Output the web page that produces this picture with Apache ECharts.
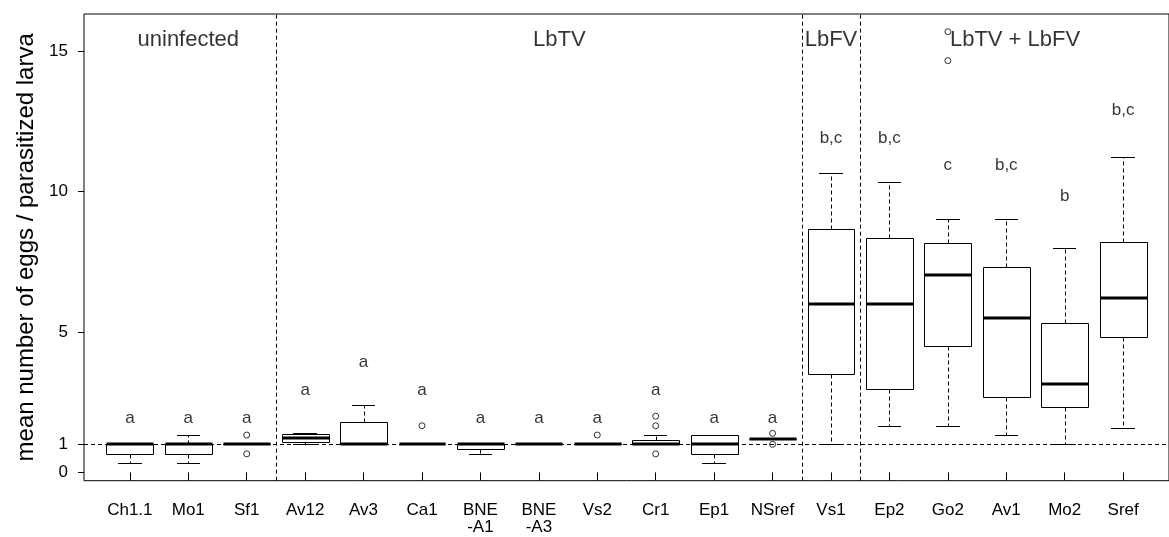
<!DOCTYPE html>
<html>
<head>
<meta charset="utf-8">
<script src="https://cdn.jsdelivr.net/npm/echarts@6/dist/echarts.min.js"></script>
<style>
html,body{margin:0;padding:0;background:#fff;}
#chart{width:1169px;height:537px;}
</style>
</head>
<body>
<div id="chart"></div>
<script>
// ---- data ----
const categories = ['Ch1.1','Mo1','Sf1','Av12','Av3','Ca1','BNE\n-A1','BNE\n-A3','Vs2','Cr1','Ep1','NSref','Vs1','Ep2','Go2','Av1','Mo2','Sref'];
const minVals = [0.35, 0.35, 1.00, 1.00, 1.00, 1.00, 0.64, 1.00, 1.00, 1.00, 0.35, 1.20, 1.00, 1.65, 1.65, 1.32, 1.00, 1.59];
const q1Vals  = [0.65, 0.65, 1.00, 1.08, 1.00, 1.00, 0.82, 1.00, 1.00, 1.00, 0.66, 1.20, 3.50, 2.98, 4.51, 2.67, 2.34, 4.82];
const medVals = [1.00, 1.00, 1.00, 1.22, 1.00, 1.00, 1.00, 1.00, 1.00, 1.00, 1.00, 1.20, 5.99, 5.99, 7.02, 5.49, 3.16, 6.21];
const q3Vals  = [1.00, 1.00, 1.00, 1.36, 1.80, 1.00, 1.00, 1.00, 1.00, 1.14, 1.33, 1.20, 8.67, 8.33, 8.16, 7.32, 5.31, 8.19];
const maxVals = [1.00, 1.33, 1.00, 1.41, 2.41, 1.00, 1.00, 1.00, 1.00, 1.32, 1.33, 1.20, 10.67, 10.35, 9.01, 9.01, 7.99, 11.22];
const outliers = [[], [], [1.33, 0.66], [], [], [1.66], [], [], [1.33], [1.66, 2.00, 0.66], [], [1.39, 1.00], [], [], [14.65, 15.68], [], [], []];
const letters = ['a','a','a','a','a','a','a','a','a','a','a','a','b,c','b,c','c','b,c','b','b,c'];
const letterY = [1.925, 1.925, 1.925, 2.93, 3.92, 2.93, 1.925, 1.925, 1.925, 2.93, 1.925, 1.925, 11.88, 11.88, 10.93, 10.93, 9.84, 12.87];
const groupNames = ['uninfected', 'LbTV', 'LbFV', 'LbTV + LbFV'];
const groupX = [2, 8.35, 13, 16.15];
const groupY = [15.4, 15.4, 15.4, 15.4];
const separators = [3.5, 12.5, 13.5];
const refLineY = 1;
const yTicks = [0, 1, 5, 10, 15];
const yTitle = 'mean number of eggs / parasitized larva';

// ---- build ----
const FONT = 'Liberation Sans, Arial, Helvetica, sans-serif';
const positions = categories.map((c, i) => i + 1);
const boxData = positions.map((x, i) => [x, minVals[i], q1Vals[i], medVals[i], q3Vals[i], maxVals[i]]);
const outlierData = [];
outliers.forEach((arr, i) => arr.forEach(v => outlierData.push([i + 1, v])));
const letterData = letters.map((t, i) => ({ name: t, value: [i + 1, letterY[i]] }));
const groupData = groupNames.map((t, i) => ({ name: t, value: [groupX[i], groupY[i]] }));

const px = v => Math.round(v) + 0.5;

function renderBox(params, api) {
  const x = api.value(0);
  const mn = api.value(1), q1 = api.value(2), md = api.value(3), q3 = api.value(4), mx = api.value(5);
  const cx = api.coord([x, 0])[0];
  const unit = api.size([1, 0])[0];
  const half = unit * 0.4;
  const capHalf = unit * 0.2;
  const Y = v => api.coord([x, v])[1];
  const yMin = px(Y(mn)), yQ1 = px(Y(q1)), yMd = Y(md), yQ3 = px(Y(q3)), yMax = px(Y(mx));
  const xc = px(cx);
  const L = Math.round(cx - half) + 0.5, R = Math.round(cx + half) + 0.5;
  const dash = { stroke: '#000', lineWidth: 1, lineDash: [4, 3] };
  const solid = { stroke: '#000', lineWidth: 1 };
  const children = [];
  if (yMax < yQ3) children.push({ type: 'line', shape: { x1: xc, y1: yQ3, x2: xc, y2: yMax }, style: dash });
  if (yMin > yQ1) children.push({ type: 'line', shape: { x1: xc, y1: yQ1, x2: xc, y2: yMin }, style: dash });
  children.push({ type: 'line', shape: { x1: Math.round(cx - capHalf), y1: yMax, x2: Math.round(cx + capHalf), y2: yMax }, style: solid });
  children.push({ type: 'line', shape: { x1: Math.round(cx - capHalf), y1: yMin, x2: Math.round(cx + capHalf), y2: yMin }, style: solid });
  children.push({ type: 'rect', shape: { x: L, y: yQ3, width: R - L, height: yQ1 - yQ3 }, style: { fill: '#fff', stroke: '#000', lineWidth: 1 } });
  children.push({ type: 'line', shape: { x1: L, y1: Math.round(yMd), x2: R, y2: Math.round(yMd) }, style: { stroke: '#000', lineWidth: 3 } });
  return { type: 'group', children };
}

const chart = echarts.init(document.getElementById('chart'), null, { renderer: 'canvas' });
chart.setOption({
  animation: false,
  backgroundColor: '#fff',
  textStyle: { fontFamily: FONT },
  grid: { left: 84, top: 14, right: -19.4, bottom: 56.3, show: true, borderColor: '#000', borderWidth: 1, backgroundColor: 'transparent' },
  xAxis: {
    type: 'value', min: 0.215, max: 18.785,
    axisLine: { show: false },
    splitLine: { show: false },
    axisTick: { show: true, customValues: positions, length: 8, lineStyle: { color: '#000', width: 1 } },
    axisLabel: {
      show: true, customValues: positions, margin: 21, fontSize: 17, lineHeight: 17, color: '#000', fontFamily: FONT,
      formatter: v => categories[Math.round(v) - 1] || ''
    }
  },
  yAxis: {
    type: 'value', min: -0.295, max: 16.31,
    name: yTitle, nameLocation: 'middle', nameGap: 41,
    nameTextStyle: { fontSize: 24, color: '#000', fontFamily: FONT },
    axisLine: { show: false },
    splitLine: { show: false },
    axisTick: { show: true, customValues: yTicks, length: 6, lineStyle: { color: '#000', width: 1 } },
    axisLabel: { show: true, customValues: yTicks, margin: 16, fontSize: 17, color: '#000', fontFamily: FONT }
  },
  series: [
    {
      type: 'scatter', data: [], z: 1, silent: true,
      markLine: {
        silent: true, symbol: ['none', 'none'], label: { show: false },
        lineStyle: { color: '#000', width: 1, type: [4, 3] },
        data: separators.map(s => ({ xAxis: s })).concat([{ yAxis: refLineY }])
      }
    },
    { type: 'custom', z: 2, renderItem: renderBox, data: boxData, encode: { x: 0, y: [1, 2, 3, 4, 5] }, silent: true },
    {
      type: 'scatter', z: 3, data: outlierData, symbol: 'circle', symbolSize: 6, silent: true,
      itemStyle: { color: 'rgba(0,0,0,0)', borderColor: '#000', borderWidth: 1 }
    },
    {
      type: 'scatter', z: 4, data: letterData, symbolSize: 1, silent: true,
      itemStyle: { color: 'rgba(0,0,0,0)' },
      label: { show: true, position: 'inside', formatter: '{b}', fontSize: 17, color: '#000', fontFamily: FONT }
    },
    {
      type: 'scatter', z: 4, data: groupData, symbolSize: 1, silent: true,
      itemStyle: { color: 'rgba(0,0,0,0)' },
      label: { show: true, position: 'inside', formatter: '{b}', fontSize: 22, color: '#000', fontFamily: FONT }
    }
  ]
});
</script>
</body>
</html>
